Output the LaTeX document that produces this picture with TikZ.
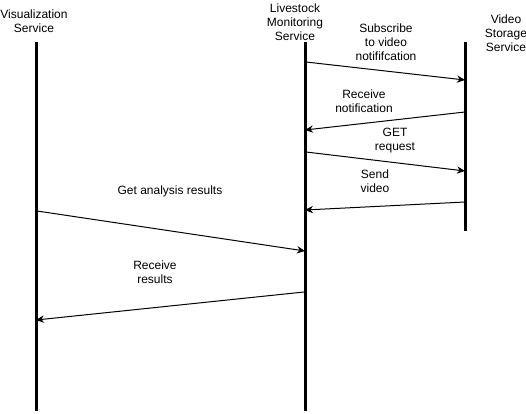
\documentclass[tikz,border=0pt]{standalone}
\usepackage{fontspec}
\setmainfont{Liberation Sans}
\usetikzlibrary{arrows.meta}

\tikzset{
	lifeline/.style={line width=2.25pt},
	msg/.style={line width=0.75pt,-{Stealth[length=6pt,width=5.5pt]}},
	lbl/.style={inner sep=0.75pt,align=center,font=\fontsize{9}{10.5}\selectfont}
}

\begin{document}
\begin{tikzpicture}[x=0.75pt,y=0.75pt,yscale=-1,xscale=1]
	\useasboundingbox (0,0) rectangle (526,414);
	
	% Lifeline ends
	\coordinate (vizTop) at (36,42);
	\coordinate (vizBot) at (36,411);
	\coordinate (lmsTop) at (305,42);
	\coordinate (lmsBot) at (305,411);
	\coordinate (vssTop) at (465,42);
	\coordinate (vssBot) at (465,231);
	
	% Lifelines
	\draw [lifeline] (vizTop) -- (vizBot);
	\draw [lifeline] (lmsTop) -- (lmsBot);
	\draw [lifeline] (vssTop) -- (vssBot);
	
	% Text Node
	\node [lbl] (vizName) at (34,21) {Visualization\\Service};
	% Text Node
	\node [lbl] (lmsName) at (295,22) {Livestock\\Monitoring\\Service};
	% Text Node
	\node [lbl] (vssName) at (506,33) {Video\\Storage\\Service};
	
	% Message ends
	\coordinate (m1a) at (306,62);
	\coordinate (m1b) at (465,80);
	\coordinate (m2a) at (465,112);
	\coordinate (m2b) at (305,130);
	\coordinate (m3a) at (306,152);
	\coordinate (m3b) at (465,171);
	\coordinate (m4a) at (465,202);
	\coordinate (m4b) at (305,210);
	\coordinate (m5a) at (37,211);
	\coordinate (m5b) at (305,251);
	\coordinate (m6a) at (304,292);
	\coordinate (m6b) at (36,320);
	
	% Messages
	\draw [msg] (m1a) -- (m1b);
	\draw [msg] (m2a) -- (m2b);
	\draw [msg] (m3a) -- (m3b);
	\draw [msg] (m4a) -- (m4b);
	\draw [msg] (m5a) -- (m5b);
	\draw [msg] (m6a) -- (m6b);
	
	% Text Node
	\node [lbl] (subLbl) at (386,42) {Subscribe\\to video\\notififcation};
	% Text Node
	\node [lbl] (recvLbl) at (364,101) {Receive\\notification};
	% Text Node
	\node [lbl] (getLbl) at (395,141) {GET\\request};
	% Text Node
	\node [lbl] (sendLbl) at (375,181) {Send\\video};
	% Text Node
	\node [lbl] (anaLbl) at (170,191) {Get analysis results};
	% Text Node
	\node [lbl] (resLbl) at (155,272) {Receive\\results};
	
\end{tikzpicture}
\end{document}
